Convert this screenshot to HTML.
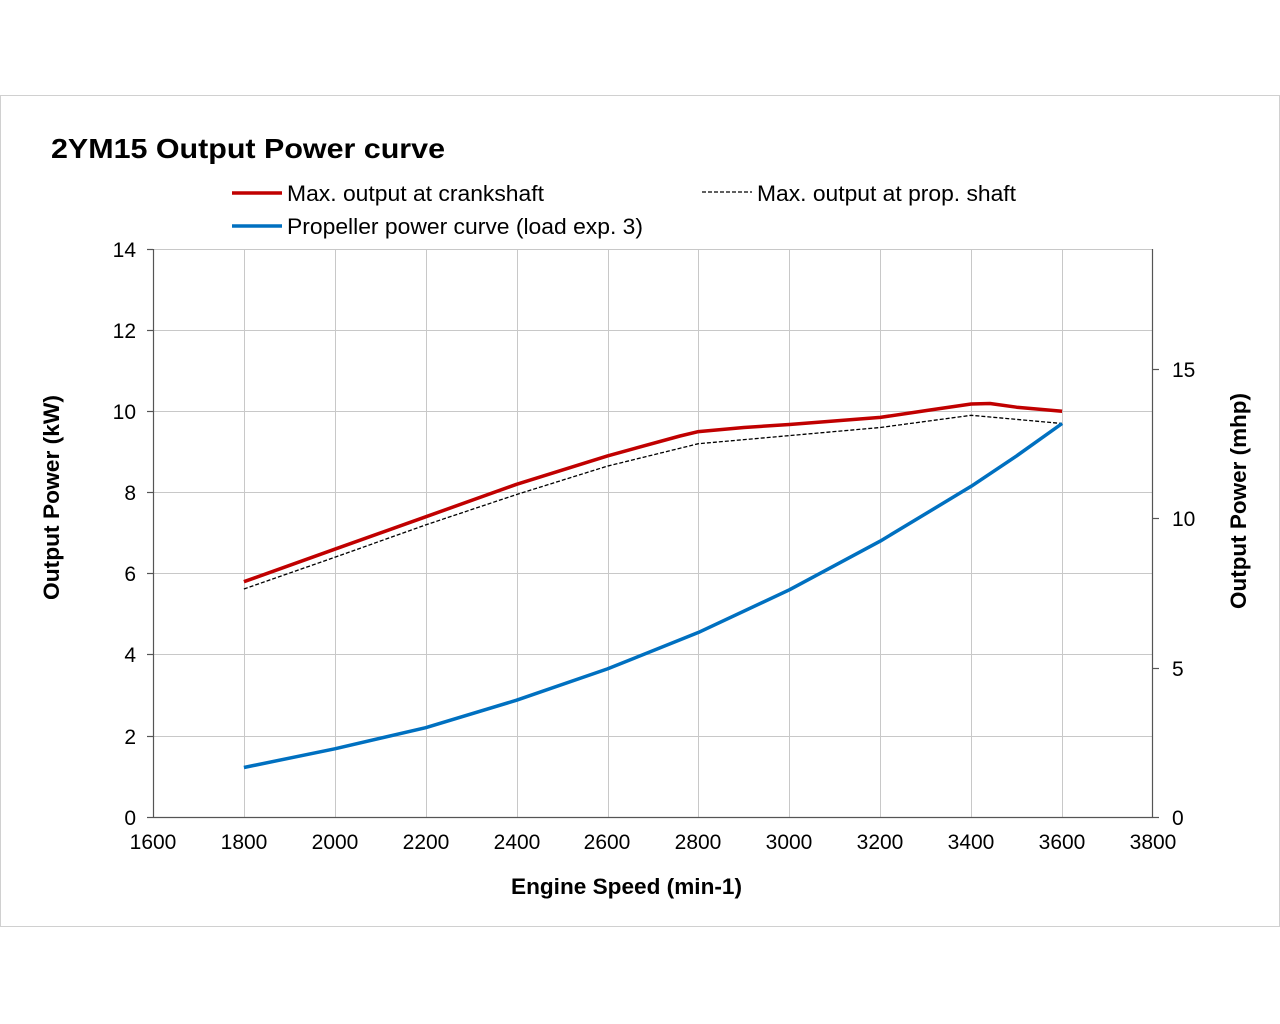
<!DOCTYPE html>
<html><head><meta charset="utf-8"><style>
html,body{margin:0;padding:0;background:#fff;}
svg{display:block;font-family:"Liberation Sans",Arial,sans-serif;}
</style></head><body>
<svg width="1280" height="1024" viewBox="0 0 1280 1024">
<rect x="0" y="0" width="1280" height="1024" fill="#fff"/>
<rect x="0.5" y="95.5" width="1279" height="831" fill="#fff" stroke="#d0d0d0"/>
<text x="51" y="158" font-size="28" font-weight="bold" fill="#000" textLength="394" lengthAdjust="spacingAndGlyphs">2YM15 Output Power  curve</text>
<line x1="232" y1="193" x2="282" y2="193" stroke="#c00000" stroke-width="3.5"/>
<text x="287" y="201" font-size="22" textLength="257" lengthAdjust="spacingAndGlyphs">Max. output at crankshaft</text>
<line x1="702" y1="192" x2="752" y2="192" stroke="#000" stroke-width="1.3" stroke-dasharray="4,2"/>
<text x="757" y="201" font-size="22" textLength="259" lengthAdjust="spacingAndGlyphs">Max. output at prop. shaft</text>
<line x1="232" y1="226" x2="282" y2="226" stroke="#0070c0" stroke-width="3.5"/>
<text x="287" y="234" font-size="22" textLength="356" lengthAdjust="spacingAndGlyphs">Propeller power curve (load exp. 3)</text>
<g stroke="#c8c8c8" stroke-width="1">
<line x1="153" y1="249.5" x2="1153" y2="249.5"/>
<line x1="153" y1="330.5" x2="1153" y2="330.5"/>
<line x1="153" y1="411.5" x2="1153" y2="411.5"/>
<line x1="153" y1="492.5" x2="1153" y2="492.5"/>
<line x1="153" y1="573.5" x2="1153" y2="573.5"/>
<line x1="153" y1="654.5" x2="1153" y2="654.5"/>
<line x1="153" y1="736.5" x2="1153" y2="736.5"/>
<line x1="244.5" y1="249" x2="244.5" y2="817"/>
<line x1="335.5" y1="249" x2="335.5" y2="817"/>
<line x1="426.5" y1="249" x2="426.5" y2="817"/>
<line x1="517.5" y1="249" x2="517.5" y2="817"/>
<line x1="608.5" y1="249" x2="608.5" y2="817"/>
<line x1="698.5" y1="249" x2="698.5" y2="817"/>
<line x1="789.5" y1="249" x2="789.5" y2="817"/>
<line x1="880.5" y1="249" x2="880.5" y2="817"/>
<line x1="971.5" y1="249" x2="971.5" y2="817"/>
<line x1="1062.5" y1="249" x2="1062.5" y2="817"/>
</g>
<g stroke="#555" stroke-width="1.2">
<line x1="153.5" y1="249" x2="153.5" y2="817"/>
<line x1="1152.5" y1="249" x2="1152.5" y2="817"/>
<line x1="153" y1="817.5" x2="1153" y2="817.5"/>
<line x1="147" y1="249.5" x2="153" y2="249.5"/><line x1="147" y1="330.5" x2="153" y2="330.5"/><line x1="147" y1="411.5" x2="153" y2="411.5"/><line x1="147" y1="492.5" x2="153" y2="492.5"/><line x1="147" y1="573.5" x2="153" y2="573.5"/><line x1="147" y1="654.5" x2="153" y2="654.5"/><line x1="147" y1="736.5" x2="153" y2="736.5"/><line x1="147" y1="817.5" x2="153" y2="817.5"/>
<line x1="1153" y1="369.5" x2="1159" y2="369.5"/><line x1="1153" y1="518.5" x2="1159" y2="518.5"/><line x1="1153" y1="668.5" x2="1159" y2="668.5"/><line x1="1153" y1="817.5" x2="1159" y2="817.5"/>
</g>
<g font-size="21" text-anchor="end">
<text x="136" y="257">14</text><text x="136" y="338">12</text><text x="136" y="419">10</text><text x="136" y="500">8</text><text x="136" y="581">6</text><text x="136" y="662">4</text><text x="136" y="744">2</text><text x="136" y="825">0</text>
</g>
<g font-size="21" text-anchor="start">
<text x="1172" y="377">15</text><text x="1172" y="526">10</text><text x="1172" y="676">5</text><text x="1172" y="825">0</text>
</g>
<g font-size="21" text-anchor="middle">
<text x="153" y="849">1600</text><text x="244" y="849">1800</text><text x="335" y="849">2000</text><text x="426" y="849">2200</text><text x="517" y="849">2400</text><text x="607" y="849">2600</text><text x="698" y="849">2800</text><text x="789" y="849">3000</text><text x="880" y="849">3200</text><text x="971" y="849">3400</text><text x="1062" y="849">3600</text><text x="1153" y="849">3800</text>
</g>
<text x="511" y="894" font-size="22" font-weight="bold" textLength="231" lengthAdjust="spacingAndGlyphs">Engine Speed (min-1)</text>
<text transform="translate(59,600) rotate(-90)" font-size="22" font-weight="bold" textLength="205" lengthAdjust="spacingAndGlyphs">Output Power (kW)</text>
<text transform="translate(1246,609) rotate(-90)" font-size="22" font-weight="bold" textLength="216" lengthAdjust="spacingAndGlyphs">Output Power (mhp)</text>
<polyline fill="none" stroke="#000" stroke-width="1.3" stroke-dasharray="4,2" points="243.9,589 334.8,557.3 425.7,524.9 516.6,494.5 607.5,466.1 698.5,443.7 789.4,435.6 880.3,427.5 971.2,415.3 1062.1,423.5"/>
<polyline fill="none" stroke="#c00000" stroke-width="3.5" stroke-linejoin="round" points="243.9,581.7 334.8,549.2 425.7,516.8 516.6,484.3 607.5,455.9 680,436 698.5,431.6 743.9,427.5 789.4,424.5 880.3,417.4 930,410 971.2,404 990,403.5 1016.6,407.2 1062.1,411.3"/>
<polyline fill="none" stroke="#0070c0" stroke-width="3.5" stroke-linejoin="round" points="243.9,767.5 334.8,748.8 425.7,727.7 516.6,700.2 607.5,668.9 698.5,632.4 789.4,589.8 880.3,541.1 971.2,486.3 1016.6,455.9 1062.1,423.5"/>
</svg>
</body></html>
